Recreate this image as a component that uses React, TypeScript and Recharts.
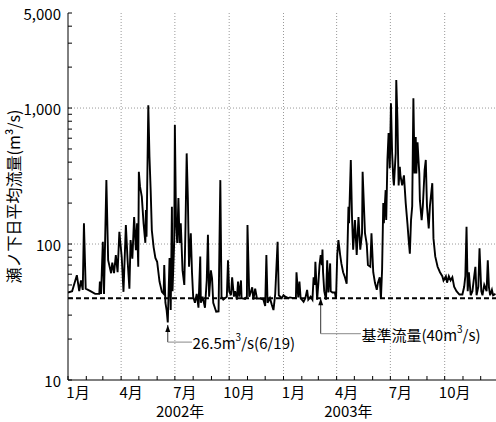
import {
	CartesianGrid,
	Line,
	LineChart,
	ReferenceDot,
	ReferenceLine,
	XAxis,
	YAxis,
} from "recharts";

// daily mean flow at Senoshita, day 0 = 2002-01-01, [day, m3/s]
const flow2002H1: [number, number][] = [
	[0, 44], [7, 45], [15, 59], [19, 45], [22, 54], [25, 46], [27, 142], [30, 47],
	[38, 45], [46, 43], [53, 43], [54, 53], [56, 43], [59, 104], [61, 43], [65, 295],
	[68, 76], [73, 61], [75, 73], [78, 61], [81, 83], [84, 62], [87, 123], [91, 80],
	[94, 44.5], [98, 138], [101, 75], [104, 47], [106, 107], [109, 78], [112, 158],
	[115, 90], [117, 142], [119, 68], [120, 340], [122, 264], [125, 223], [128, 142],
	[131, 102], [132, 178], [133, 113], [136, 1050], [138, 438], [140, 249], [142, 126],
	[145, 95], [148, 79], [151, 74], [155, 53], [159, 44.5], [162, 43], [163, 70],
	[165, 37], [167, 32.7], [169, 26.5], [172, 79], [174, 32.7], [176, 188], [177, 45],
	[180, 107],
];
const flow2002H2: [number, number][] = [
	[181, 750], [183, 142], [185, 102], [187, 218], [189, 102], [191, 142], [194, 64],
	[197, 50], [199, 134], [201, 464], [203, 218], [205, 68], [208, 120], [210, 62],
	[212, 41], [215, 37], [218, 43], [221, 34], [224, 81], [225, 37], [228, 41],
	[232, 34], [235, 54], [237, 117], [239, 41], [242, 64], [244, 56], [246, 37],
	[251, 31.8], [255, 32], [258, 295], [260, 41], [263, 39], [269, 41], [271, 76],
	[273, 45], [276, 42], [278, 57], [281, 41], [283, 45], [286, 39], [288, 53],
	[290, 41], [293, 54], [294, 40], [300, 39.5], [303, 41], [304, 138], [307, 41],
	[310, 45], [312, 48], [314, 39], [317, 47], [320, 39.8], [325, 39.8], [331, 39],
	[334, 35], [336, 83], [338, 37], [342, 40], [345, 36], [348, 32.7], [351, 43],
	[355, 104], [357, 42], [362, 40],
];
const flow2003H1: [number, number][] = [
	[365, 42], [368, 41], [373, 40], [376, 40.5], [381, 40], [386, 40], [387, 62],
	[390, 40.5], [392, 53], [394, 40], [399, 37.6], [402, 40], [405, 46], [407, 39],
	[411, 41], [414, 39], [416, 57], [418, 50], [419, 74], [422, 39], [424, 51],
	[426, 70], [428, 83], [430, 70], [431, 91], [432, 62], [434, 45], [437, 39],
	[439, 76], [441, 44], [444, 72], [445, 45], [448, 44], [452, 44], [454, 39.5],
	[456, 83], [458, 107], [461, 83], [463, 72], [466, 62], [469, 57], [472, 51],
	[475, 188], [476, 142], [479, 415], [481, 160], [483, 91], [486, 150], [489, 83],
	[492, 158], [495, 91], [498, 120], [499, 340], [503, 120], [506, 100], [508, 70],
	[512, 68], [514, 120], [517, 62], [520, 51.6], [523, 46], [525, 52], [528, 57],
	[530, 39.5], [532, 65], [534, 200], [535, 142], [538, 249], [539, 150], [541, 415],
	[543, 655], [545, 360],
];
const flow2003H2: [number, number][] = [
	[547, 1085], [549, 464], [551, 300], [552, 270], [555, 464], [556, 1607], [558, 816],
	[560, 270], [562, 370], [563, 320], [566, 270], [569, 320], [572, 200], [575, 140],
	[577, 107], [579, 85], [581, 150], [583, 190], [585, 1178], [587, 330], [589, 612],
	[590, 330], [592, 560], [595, 330], [596, 210], [599, 150], [601, 190], [604, 350],
	[606, 415], [608, 190], [611, 130], [613, 190], [617, 280], [619, 110], [622, 81],
	[626, 68], [630, 62], [634, 58], [636, 54], [640, 58], [642, 52], [645, 58],
	[648, 54], [651, 57], [654, 48.5], [658, 45], [663, 42.5], [668, 42.5], [671, 48.5],
	[673, 58], [675, 134], [677, 45], [679, 62], [682, 42], [685, 45], [688, 58],
	[690, 68], [692, 42], [695, 48.5], [697, 93], [700, 45], [702, 42], [705, 50],
	[709, 45], [711, 76], [713, 48], [715, 42], [718, 46], [720, 42], [724, 43],
];

const monthStarts = [
	0, 31, 59, 90, 120, 151, 181, 212, 243, 273, 304, 334,
	365, 396, 424, 455, 485, 516, 546, 577, 608, 638, 669, 699,
];
const monthLabels = ["1月", "", "", "4月", "", "", "7月", "", "", "10月", "", ""];
const quarterStarts = [90, 181, 273, 365, 455, 546, 638];
const yearTicks = [190, 475];
const yearLabels = ["2002年", "2003年"];
const yTicks = [
	10, 20, 30, 40, 50, 60, 70, 80, 90,
	100, 200, 300, 400, 500, 600, 700, 800, 900,
	1000, 2000, 3000, 4000, 5000,
];
const yMajor = [10, 100, 1000, 5000];
const yGrid = [100, 1000];

const baseFlow = 40;
// annotation: minimum flow
const minDay = 169;
const minArrowTip = 25.4;
const minLeaderLow = 19;
const minTextDay = 211;
// annotation: base flow
const baseDay = 428;
const baseLeaderLow = 21.9;
const baseTextDay = 497;

const data = [...flow2002H1, ...flow2002H2, ...flow2003H1, ...flow2003H2].map(
	([day, flow]) => ({ day, flow }),
);

const FONT = "'Noto Sans CJK JP', sans-serif";

function MonthTick(props: any) {
	const { x, y, index } = props;
	const label = monthLabels[index % 12];
	if (!label) return <g />;
	return (
		<text
			x={x + 10}
			y={y + 13}
			textAnchor="middle"
			dominantBaseline="central"
			fontSize={15}
			fontFamily={FONT}
			fill="#000"
		>
			{label}
		</text>
	);
}

function YearTick(props: any) {
	const { x, y, index } = props;
	return (
		<text
			x={x}
			y={y}
			textAnchor="middle"
			dominantBaseline="central"
			fontSize={15}
			fontFamily={FONT}
			fill="#000"
		>
			{yearLabels[index]}
		</text>
	);
}

function FlowTick(props: any) {
	const { x, y, payload } = props;
	if (!yMajor.includes(payload.value)) return <g />;
	return (
		<text
			x={x - 9}
			y={y}
			textAnchor="end"
			dominantBaseline="central"
			fontSize={15}
			fontFamily={FONT}
			fill="#000"
		>
			{payload.value.toLocaleString("en-US")}
		</text>
	);
}

const arrowUp = (p: any) => (
	<path d={`M${p.cx},${p.cy} l-2.5,7 l5,0 z`} fill="#000" />
);

const minLabel = (p: any) => (
	<text x={p.cx} y={p.cy} dominantBaseline="central" fontSize={15} fontFamily={FONT} fill="#000">
		<tspan>26.5m</tspan>
		<tspan dy={-6} fontSize={10}>3</tspan>
		<tspan dy={6}>/s(6/19)</tspan>
	</text>
);

const baseLabel = (p: any) => (
	<text x={p.cx} y={p.cy} dominantBaseline="central" fontSize={15} fontFamily={FONT} fill="#000">
		<tspan>基準流量(40m</tspan>
		<tspan dy={-6} fontSize={10}>3</tspan>
		<tspan dy={6}>/s)</tspan>
	</text>
);

export default function App() {
	return (
		<div
			style={{
				position: "fixed",
				left: 0,
				top: 0,
				width: 496,
				height: 422,
				overflow: "hidden",
				background: "#fff",
				fontFamily: FONT,
			}}
		>
			<LineChart
				width={500}
				height={422}
				data={data}
				margin={{ top: 13, right: 1, bottom: 0, left: 0 }}
			>
				<CartesianGrid
					xAxisId="m"
					verticalValues={quarterStarts}
					horizontalValues={yGrid}
					stroke="#999"
					strokeDasharray="1 2"
				/>
				<XAxis
					xAxisId="top"
					orientation="top"
					type="number"
					dataKey="day"
					domain={[0, 730]}
					allowDataOverflow
					ticks={monthStarts}
					interval={0}
					height={0}
					tick={false}
					tickSize={-4}
					axisLine={{ stroke: "#000" }}
					tickLine={{ stroke: "#000" }}
				/>
				<XAxis
					xAxisId="m"
					type="number"
					dataKey="day"
					domain={[0, 730]}
					allowDataOverflow
					ticks={monthStarts}
					interval={0}
					height={22}
					tickSize={-4}
					tick={<MonthTick />}
					axisLine={{ stroke: "#000" }}
					tickLine={{ stroke: "#000" }}
				/>
				<XAxis
					xAxisId="yr"
					type="number"
					dataKey="day"
					domain={[0, 730]}
					allowDataOverflow
					ticks={yearTicks}
					interval={0}
					height={20}
					axisLine={false}
					tickLine={false}
					tick={<YearTick />}
				/>
				<YAxis
					scale="log"
					domain={[10, 5000]}
					allowDataOverflow
					ticks={yTicks}
					interval={0}
					width={68}
					tickSize={-4}
					tick={<FlowTick />}
					axisLine={{ stroke: "#000" }}
					tickLine={{ stroke: "#000" }}
					label={{
						value: "瀬ノ下日平均流量(m³/s)",
						angle: -90,
						position: "insideLeft",
						offset: 14,
						style: { textAnchor: "middle", fontSize: 16, fill: "#000", fontFamily: FONT },
					}}
				/>
				<ReferenceLine
					xAxisId="m"
					y={baseFlow}
					stroke="#000"
					strokeWidth={2}
					strokeDasharray="5 3"
				/>
				<Line
					xAxisId="m"
					type="linear"
					dataKey="flow"
					stroke="#000"
					strokeWidth={1.9}
					dot={false}
					isAnimationActive={false}
				/>
				<ReferenceLine
					xAxisId="m"
					ifOverflow="visible"
					segment={[
						{ x: minDay, y: minArrowTip },
						{ x: minDay, y: minLeaderLow },
					]}
					stroke="#333"
					strokeWidth={1}
				/>
				<ReferenceLine
					xAxisId="m"
					ifOverflow="visible"
					segment={[
						{ x: minDay, y: minLeaderLow },
						{ x: minTextDay - 1, y: minLeaderLow },
					]}
					stroke="#888"
					strokeWidth={1}
				/>
				<ReferenceDot xAxisId="m" x={minDay} y={minArrowTip} ifOverflow="visible" shape={arrowUp} />
				<ReferenceDot xAxisId="m" x={minTextDay} y={minLeaderLow} ifOverflow="visible" shape={minLabel} />
				<ReferenceLine
					xAxisId="m"
					ifOverflow="visible"
					segment={[
						{ x: baseDay, y: baseFlow },
						{ x: baseDay, y: baseLeaderLow },
					]}
					stroke="#333"
					strokeWidth={1}
				/>
				<ReferenceLine
					xAxisId="m"
					ifOverflow="visible"
					segment={[
						{ x: baseDay, y: baseLeaderLow },
						{ x: baseTextDay - 1, y: baseLeaderLow },
					]}
					stroke="#888"
					strokeWidth={1}
				/>
				<ReferenceDot xAxisId="m" x={baseDay} y={baseFlow} ifOverflow="visible" shape={arrowUp} />
				<ReferenceDot xAxisId="m" x={baseTextDay} y={baseLeaderLow} ifOverflow="visible" shape={baseLabel} />
			</LineChart>
		</div>
	);
}
